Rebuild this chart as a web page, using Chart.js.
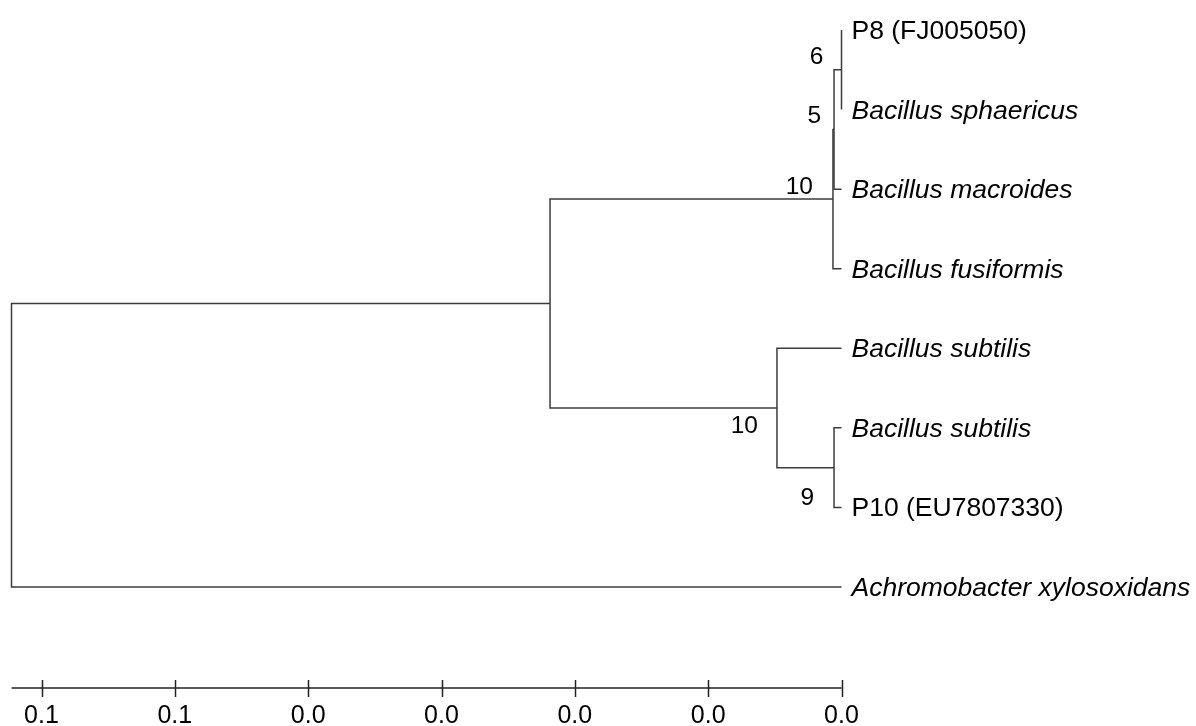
<!DOCTYPE html>
<html>
<head>
<meta charset="utf-8">
<script src="https://cdn.jsdelivr.net/npm/chart.js@4.4.1/dist/chart.umd.min.js"></script>
<style>
html,body{margin:0;padding:0;background:#fff;}
#wrap{width:1196px;height:726px;position:relative;}
</style>
</head>
<body>
<div id="wrap"><canvas id="c"></canvas></div>
<script>
// ---- data ----
const leafNames = ['P8 (FJ005050)', 'Bacillus sphaericus', 'Bacillus macroides', 'Bacillus fusiformis',
  'Bacillus subtilis', 'Bacillus subtilis', 'P10 (EU7807330)', 'Achromobacter xylosoxidans'];
const leafItalic = [false, true, true, true, true, true, false, true];
// internal nodes: children (L = leaf index, N = node index), distance from tips, bootstrap
const nodeChildren = [['L0','L1'], ['N0','L2'], ['N1','L3'], ['L5','L6'], ['L4','N3'], ['N2','N4'], ['N5','L7']];
const nodeHeights = [0, 0.00056, 0.00064, 0.00056, 0.00484, 0.02186, 0.06225];
const nodeBootstrap = ['6', '5', '10', '9', '10', '', ''];
const tickValues = [0, 0.01, 0.02, 0.03, 0.04, 0.05, 0.06];
const tickLabels = ['0.0', '0.0', '0.0', '0.0', '0.0', '0.1', '0.1'];

// ---- tree geometry (in data units) ----
function ref(id){
  const k = id[0], i = +id.slice(1);
  if (k === 'L') return {x: 0, y: i};
  return {x: nodeHeights[i], y: nodeY(i)};
}
function nodeY(i){
  const a = ref(nodeChildren[i][0]), b = ref(nodeChildren[i][1]);
  return (a.y + b.y) / 2;
}
const LINE = '#3c3c3c';
const datasets = nodeChildren.map((ch, i) => {
  const a = ref(ch[0]), b = ref(ch[1]), h = nodeHeights[i];
  return {
    data: [{x: a.x, y: a.y}, {x: h, y: a.y}, {x: h, y: b.y}, {x: b.x, y: b.y}],
    showLine: true, borderColor: LINE, borderWidth: 1.5, pointRadius: 0, tension: 0, fill: false,
    clip: false
  };
});

// bootstrap label placement (pixel offsets: right-edge gap, baseline dy)
const bsStyle = [[18,-6],[13,-6],[20,-5],[20,37],[19,25]];

const treePlugin = {
  id: 'tree',
  afterDatasetsDraw(chart){
    const ctx = chart.ctx, xs = chart.scales.x, ys = chart.scales.y;
    ctx.save();
    // leaf labels
    leafNames.forEach((name, i) => {
      ctx.font = (leafItalic[i] ? 'italic ' : '') + '26.5px "Liberation Sans", Arial, sans-serif';
      ctx.fillStyle = '#000';
      ctx.textAlign = 'left';
      ctx.textBaseline = 'alphabetic';
      ctx.fillText(name, xs.getPixelForValue(0) + 10, ys.getPixelForValue(i) + 9);
    });
    // bootstrap values
    ctx.font = '24.5px "Liberation Sans", Arial, sans-serif';
    ctx.textAlign = 'right';
    nodeBootstrap.forEach((b, i) => {
      if (!b) return;
      const px = xs.getPixelForValue(nodeHeights[i]);
      const py = ys.getPixelForValue(nodeY(i));
      const s = bsStyle[i];
      ctx.fillText(b, px - s[0], py + s[1]);
    });
    // scale axis
    const axY = chart.chartArea.bottom;
    const x0 = xs.getPixelForValue(nodeHeights[nodeHeights.length - 1]);
    const x1 = xs.getPixelForValue(0);
    ctx.strokeStyle = '#222';
    ctx.lineWidth = 1.5;
    ctx.beginPath();
    ctx.moveTo(x0, axY); ctx.lineTo(x1, axY);
    tickValues.forEach(v => {
      const p = Math.round(xs.getPixelForValue(v)) + 0.5;
      ctx.moveTo(p, axY - 8); ctx.lineTo(p, axY + 9);
    });
    ctx.stroke();
    ctx.font = '25px "Liberation Sans", Arial, sans-serif';
    ctx.textAlign = 'center';
    ctx.fillStyle = '#000';
    tickValues.forEach((v, i) => {
      ctx.fillText(tickLabels[i], xs.getPixelForValue(v), axY + 35);
    });
    ctx.restore();
  }
};

new Chart(document.getElementById('c'), {
  type: 'scatter',
  data: {datasets},
  options: {
    responsive: true, maintainAspectRatio: false, animation: false,
    devicePixelRatio: 1,
    layout: {padding: {left: 11.5, right: 354.5, top: 30, bottom: 38}},
    plugins: {legend: {display: false}, tooltip: {enabled: false}},
    scales: {
      x: {type: 'linear', display: false, reverse: true, min: 0, max: nodeHeights[nodeHeights.length - 1]},
      y: {type: 'linear', display: false, reverse: true, min: 0, max: 8.269}
    },
    elements: {line: {borderCapStyle: 'butt'}}
  },
  plugins: [treePlugin]
});
</script>
</body>
</html>
